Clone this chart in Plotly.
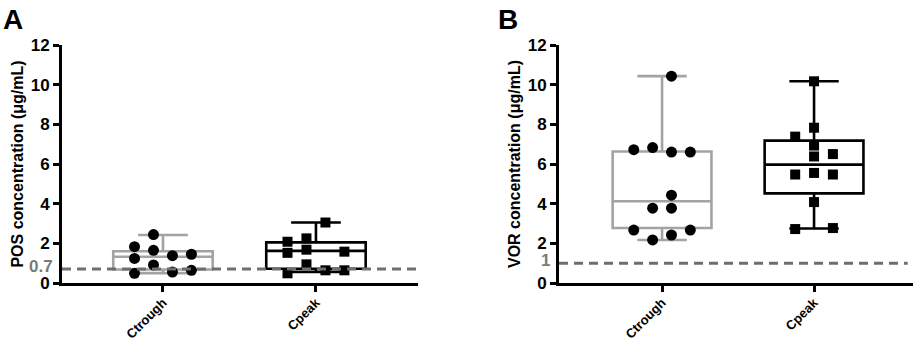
import plotly.graph_objects as go

W, H = 920, 338
FONT = "Arial, Liberation Sans, sans-serif"

categories = ["Ctrough", "Cpeak"]

# Panel A (POS)
pos_trough_vals = [2.44, 1.83, 1.65, 1.24, 1.38, 1.45, 0.91, 0.49, 0.55, 0.64]
pos_trough_cols = [-0.5, -1.5, -0.5, -1.5, 0.5, 1.5, -0.5, -1.5, 0.5, 1.5]
pos_peak_vals = [3.05, 2.08, 1.52, 2.25, 1.68, 1.58, 0.94, 0.49, 0.64, 0.64]
pos_peak_cols = [0.5, -1.5, -1.5, -0.5, -0.5, 1.5, -0.5, -1.5, 0.5, 1.5]
pos_box = {  # q1, median, q3, lower whisker, upper whisker
    "Ctrough": [0.68, 1.32, 1.60, 0.50, 2.42],
    "Cpeak": [0.72, 1.62, 2.05, 0.56, 3.05],
}
pos_threshold = 0.7

# Panel B (VOR)
vor_trough_vals = [10.43, 6.72, 6.83, 6.60, 6.60, 4.43, 3.77, 3.77, 2.67, 2.67, 2.42, 2.17]
vor_trough_cols = [0.5, -1.5, -0.5, 0.5, 1.5, 0.5, -0.5, 0.5, -1.5, 1.5, 0.5, -0.5]
vor_peak_vals = [10.17, 7.83, 7.38, 6.93, 6.38, 6.50, 5.47, 5.55, 5.47, 4.08, 2.72, 2.77]
vor_peak_cols = [0, 0, -1, 0, 0, 1, -1, 0, 1, 0, -1, 1]
vor_box = {
    "Ctrough": [2.77, 4.12, 6.63, 2.17, 10.43],
    "Cpeak": [4.52, 5.97, 7.18, 2.75, 10.17],
}
vor_threshold = 1

y_ticks = [0, 2, 4, 6, 8, 10, 12]

COL_STEP = 0.124
GRAY = "#a3a3a3"
DASH_GRAY = "#6e6e6e"

fig = go.Figure()

panels = [
    dict(xa="x", ya="y", box=pos_box,
         pts=[(pos_trough_vals, pos_trough_cols, "circle"), (pos_peak_vals, pos_peak_cols, "square")]),
    dict(xa="x2", ya="y2", box=vor_box,
         pts=[(vor_trough_vals, vor_trough_cols, "circle"), (vor_peak_vals, vor_peak_cols, "square")]),
]
box_colors = [GRAY, "black"]

for p in panels:
    for i, cat in enumerate(categories):
        q1, med, q3, lo, hi = p["box"][cat]
        fig.add_trace(go.Box(
            x=[i], q1=[q1], median=[med], q3=[q3], lowerfence=[lo], upperfence=[hi],
            width=0.65, whiskerwidth=0.5, boxpoints=False,
            line=dict(color=box_colors[i], width=2.6), fillcolor="rgba(0,0,0,0)",
            xaxis=p["xa"], yaxis=p["ya"], showlegend=False, hoverinfo="skip"))
    for i, (vals, cols, sym) in enumerate(p["pts"]):
        fig.add_trace(go.Scatter(
            x=[i + c * COL_STEP for c in cols], y=vals, mode="markers",
            marker=dict(symbol=sym, size=11 if sym == "circle" else 10, color="black",
                        line=dict(width=0)),
            xaxis=p["xa"], yaxis=p["ya"], showlegend=False))

ydom = [1 - 283 / H, 1 - 45 / H]
xdomA = [62 / W, 418 / W]
xdomB = [559 / W, 913 / W]

axis_common = dict(showline=True, linecolor="black", linewidth=3, ticks="outside",
                   ticklen=6, tickwidth=3, tickcolor="black", showgrid=False, zeroline=False,
                   automargin=False)
xcommon = dict(axis_common, tickvals=[0, 1], ticktext=[f"<b>{c}</b>" for c in categories],
               tickangle=-45, ticklen=6, ticklabelstandoff=-2,
               tickfont=dict(family=FONT, size=13, color="black"))
ycommon = dict(axis_common, range=[0, 12], tickvals=y_ticks,
               ticktext=[f"<b>{t}</b>" for t in y_ticks],
               tickfont=dict(family=FONT, size=17, color="black"))
title_font = dict(family=FONT, size=16, color="black")

fig.update_layout(
    template="none",
    width=W, height=H, margin=dict(l=0, r=0, t=0, b=0, autoexpand=False),
    paper_bgcolor="white", plot_bgcolor="white",
    xaxis=dict(xcommon, domain=xdomA, range=[-0.66, 1.667], anchor="y"),
    yaxis=dict(ycommon, domain=ydom, anchor="x",
               title=dict(text="<b>POS concentration (μg/mL)</b>", font=title_font, standoff=4)),
    xaxis2=dict(xcommon, domain=xdomB, range=[-0.678, 1.651], anchor="y2"),
    yaxis2=dict(ycommon, domain=ydom, anchor="x2",
                title=dict(text="<b>VOR concentration (μg/mL)</b>", font=title_font, standoff=4)),
)

# threshold lines
fig.add_shape(type="line", xref="x domain", yref="y", x0=0.0, x1=1.01,
              y0=pos_threshold, y1=pos_threshold,
              line=dict(color=DASH_GRAY, width=3, dash="9px,6px"))
fig.add_shape(type="line", xref="x2 domain", yref="y2", x0=0.0, x1=0.985,
              y0=vor_threshold, y1=vor_threshold,
              line=dict(color=DASH_GRAY, width=3, dash="9px,6px"))

# threshold labels
fig.add_annotation(text=f"<b>{pos_threshold}</b>", xref="paper", yref="y", x=(62 - 7) / W,
                   y=pos_threshold, xanchor="right", yanchor="middle", yshift=3, showarrow=False,
                   font=dict(family=FONT, size=17, color="#7a7a7a"))
fig.add_annotation(text=f"<b>{vor_threshold}</b>", xref="paper", yref="y2", x=(559 - 7) / W,
                   y=vor_threshold, xanchor="right", yanchor="middle", yshift=3, showarrow=False,
                   font=dict(family=FONT, size=17, color="#7a7a7a"))

# panel letters
fig.add_annotation(text="<b>A</b>", xref="paper", yref="paper", x=1 / W, y=1 - 2 / H,
                   xanchor="left", yanchor="top", showarrow=False,
                   font=dict(family=FONT, size=28, color="black"))
fig.add_annotation(text="<b>B</b>", xref="paper", yref="paper", x=496 / W, y=1 - 2 / H,
                   xanchor="left", yanchor="top", showarrow=False,
                   font=dict(family=FONT, size=28, color="black"))

fig.write_html("out.html", config={"displayModeBar": False},
               post_script="document.body.style.margin='0';document.body.style.overflow='hidden';")
